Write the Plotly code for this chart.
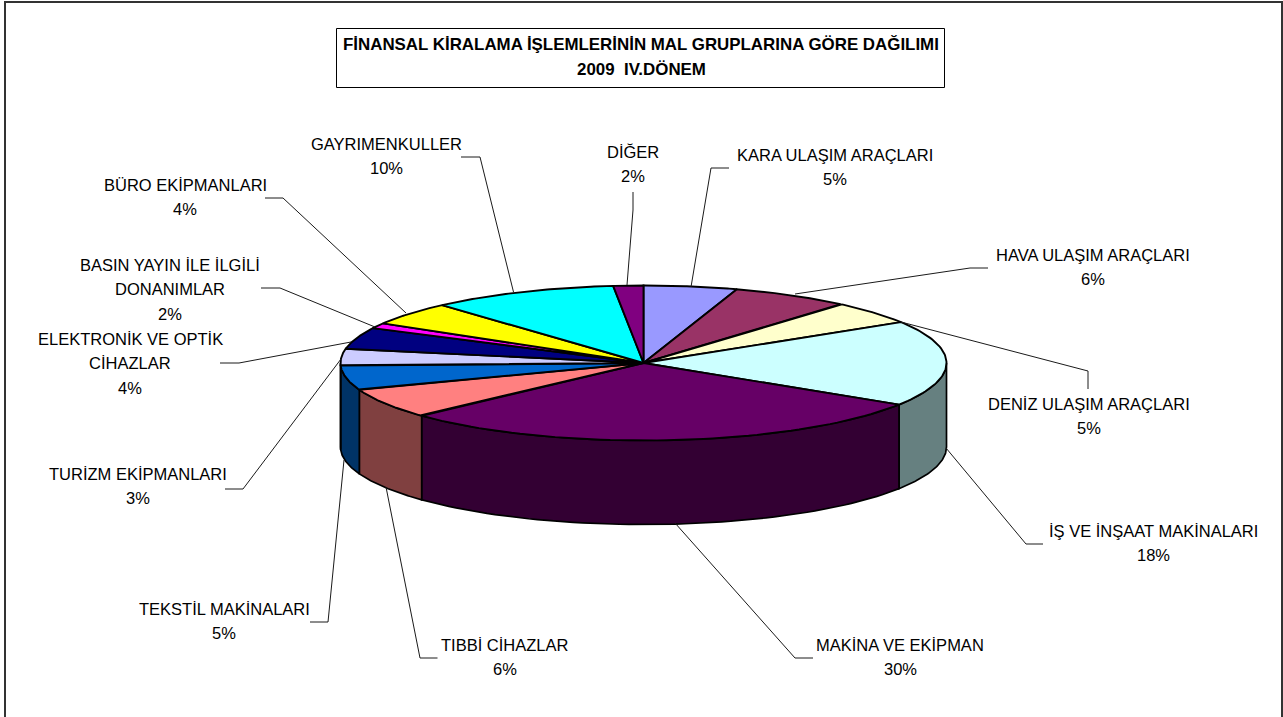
import numpy as np
import plotly.graph_objects as go

# --- data ---
categories = ["KARA ULAŞIM ARAÇLARI", "HAVA ULAŞIM ARAÇLARI", "DENİZ ULAŞIM ARAÇLARI",
              "İŞ VE İNŞAAT MAKİNALARI", "MAKİNA VE EKİPMAN", "TIBBİ CİHAZLAR",
              "TEKSTİL MAKİNALARI", "TURİZM EKİPMANLARI", "ELEKTRONİK VE OPTİK CİHAZLAR",
              "BASIN YAYIN İLE İLGİLİ DONANIMLAR", "BÜRO EKİPMANLARI", "GAYRIMENKULLER", "DİĞER"]
shares = [5.0, 6.3, 4.9, 17.9, 29.1, 6.3, 5.1, 3.5, 4.5, 1.1, 4.9, 10.0, 1.6]
percent_labels = ["5%", "6%", "5%", "18%", "30%", "6%", "5%", "3%", "4%", "2%", "4%", "10%", "2%"]
top_colors = ["#9999FF", "#993366", "#FFFFCC", "#CCFFFF", "#660066", "#FF8080", "#0066CC",
              "#CCCCFF", "#000080", "#FF00FF", "#FFFF00", "#00FFFF", "#800080"]
side_colors = ["#4D4D80", "#4D1A33", "#808066", "#668080", "#330033", "#804040", "#003366",
               "#666680", "#000040", "#800080", "#808000", "#008080", "#400040"]

# --- layout of the drawing (page-pixel axes) ---
CX, CY, RX, RY, DEPTH = 643.5, 363, 303, 77.5, 84
FONT = "Liberation Sans"
FS = 16.5
label_lines = [
    ["KARA ULAŞIM ARAÇLARI"], ["HAVA ULAŞIM ARAÇLARI"], ["DENİZ ULAŞIM ARAÇLARI"],
    ["İŞ VE İNŞAAT MAKİNALARI"], ["MAKİNA VE EKİPMAN"], ["TIBBİ CİHAZLAR"],
    ["TEKSTİL MAKİNALARI"], ["TURİZM EKİPMANLARI"], ["ELEKTRONİK VE OPTİK", "CİHAZLAR"],
    ["BASIN YAYIN İLE İLGİLİ", "DONANIMLAR"], ["BÜRO EKİPMANLARI"], ["GAYRIMENKULLER"], ["DİĞER"],
]
label_x = [835, 1093, 1089, 1153, 900, 504.5, 224, 138, 130, 170, 185, 386, 632.5]
label_y = [155, 255, 404, 531, 645, 645, 609, 474, 339, 265, 185, 144, 152]
line_step = 24.4
leaders = [
    [(729, 168), (711, 168), (691, 287)],
    [(988, 268), (970, 268), (795, 294)],
    [(1088, 389), (1088, 371), (901, 322)],
    [(1043, 544), (1026, 544), (946, 448)],
    [(813, 658), (795, 658), (675, 523)],
    [(437.5, 658), (420, 658), (386, 487)],
    [(310, 622), (328, 622), (344, 460)],
    [(225, 489), (243, 489), (341, 359)],
    [(220, 363), (239, 363), (351, 342)],
    [(261, 288), (280, 288), (375, 327)],
    [(265, 198), (283, 198), (406, 313)],
    [(461, 157), (480, 157), (513.5, 292)],
    [(633, 192), (633, 210), (627, 285)],
]

fractions = np.array(shares) / sum(shares)
edges = np.concatenate([[0], np.cumsum(fractions)]) * 2 * np.pi


def rim(a, b, n=60):
    t = np.linspace(a, b, n)
    return CX + RX * np.sin(t), CY - RY * np.cos(t)


fig = go.Figure()

# outer wall (only the front half of the cake is visible)
for i, name in enumerate(categories):
    a, b = max(edges[i], np.pi / 2), min(edges[i + 1], 3 * np.pi / 2)
    if b <= a:
        continue
    x, y = rim(a, b)
    fig.add_trace(go.Scatter(
        x=np.concatenate([x, x[::-1], x[:1]]),
        y=np.concatenate([y, y[::-1] + DEPTH, y[:1]]),
        fill="toself", fillcolor=side_colors[i], mode="lines",
        line=dict(color="black", width=1.7), hoverinfo="skip", showlegend=False))

# top face
for i, name in enumerate(categories):
    x, y = rim(edges[i], edges[i + 1])
    fig.add_trace(go.Scatter(
        x=np.concatenate([[CX], x, [CX]]),
        y=np.concatenate([[CY], y, [CY]]),
        fill="toself", fillcolor=top_colors[i], mode="lines", name=name,
        line=dict(color="black", width=1.9), hoverinfo="name", showlegend=False))

# leader lines
for pts in leaders:
    fig.add_trace(go.Scatter(
        x=[p[0] for p in pts], y=[p[1] for p in pts], mode="lines",
        line=dict(color="#1a1a1a", width=1), hoverinfo="skip", showlegend=False))

# data labels
for lines, pct, lx, ly in zip(label_lines, percent_labels, label_x, label_y):
    for k, txt in enumerate(lines + [pct]):
        fig.add_annotation(x=lx, y=ly + k * line_step, text=txt, showarrow=False,
                           xanchor="center", yanchor="middle",
                           font=dict(family=FONT, size=FS, color="black"))

# title
for txt, ty in [("FİNANSAL KİRALAMA İŞLEMLERİNİN MAL GRUPLARINA GÖRE DAĞILIMI", 44), ("2009  IV.DÖNEM", 69)]:
    fig.add_annotation(x=641, y=ty, text=f"<b>{txt}</b>", showarrow=False,
                       xanchor="center", yanchor="middle",
                       font=dict(family=FONT, size=16.9, color="black"))

fig.update_layout(
    width=1283, height=717, margin=dict(l=0, r=0, t=0, b=0),
    paper_bgcolor="white", plot_bgcolor="white", showlegend=False,
    xaxis=dict(range=[0, 1283], visible=False, fixedrange=True),
    yaxis=dict(range=[717, 0], visible=False, fixedrange=True),
    shapes=[
        dict(type="rect", xref="x", yref="y", x0=5, y0=2, x1=1282, y1=730,
             line=dict(color="#333333", width=2), layer="below"),
        dict(type="rect", xref="x", yref="y", x0=336.5, y0=28.5, x1=944.5, y1=87.5,
             line=dict(color="black", width=1), layer="below"),
    ],
)
fig.write_html("out.html", config={"displayModeBar": False},
               post_script="document.body.style.margin='0';document.body.style.overflow='hidden';")
